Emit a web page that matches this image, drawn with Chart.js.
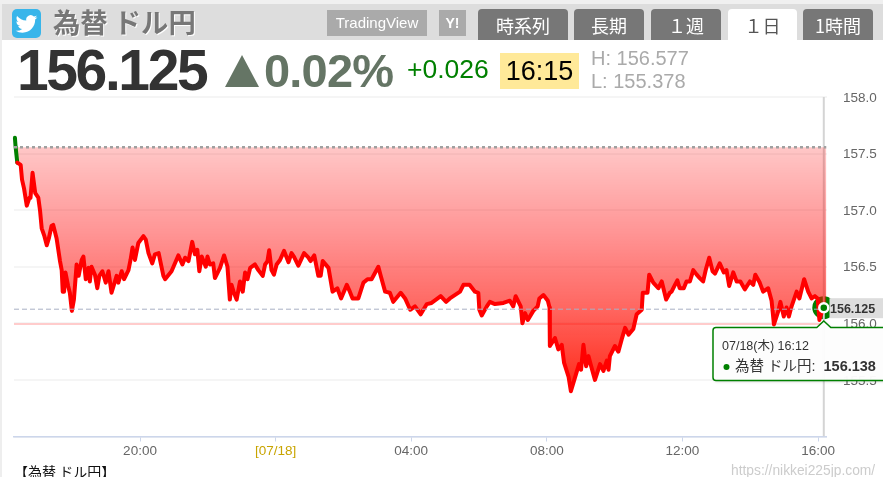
<!DOCTYPE html>
<html lang="ja"><head><meta charset="utf-8">
<script src="https://cdn.jsdelivr.net/npm/chart.js@4"></script>
<style>
html,body{margin:0;padding:0;background:#fff;overflow:hidden}
body{width:883px;height:477px;position:relative;font-family:"Liberation Sans",Arial,"Noto Sans CJK JP",sans-serif}
#wrap{position:absolute;left:0;top:0;width:883px;height:477px}
canvas{display:block}
.a{position:absolute;white-space:nowrap;line-height:1}
.btn{background:#aaa;color:#fff;text-align:center;top:10px;height:26px;line-height:26px;font-size:15px}
.tab{background:#777;color:#fff;text-align:center;top:9px;height:31px;line-height:32px;font-size:18px;border-radius:4px 4px 0 0;font-family:"Noto Sans CJK JP",sans-serif}
</style></head><body>
<div class="a" style="left:0;top:0;width:2px;height:477px;background:#eee"></div>
<div class="a" style="left:0;top:0;width:883px;height:4px;background:#f0f0f0"></div>
<div class="a" style="left:2px;top:4px;width:881px;height:36px;background:#ddd"></div>
<div id="wrap"><canvas id="c" width="883" height="477"></canvas></div>
<div class="a" style="left:12px;top:9px;width:29px;height:29px;border-radius:5px;background:#38b5ea">
<svg width="29" height="29" viewBox="-4 -4.5 32 32"><path fill="#fff" d="M23.953 4.57a10 10 0 01-2.825.775 4.958 4.958 0 002.163-2.723c-.951.555-2.005.959-3.127 1.184a4.92 4.92 0 00-8.384 4.482C7.69 8.095 4.067 6.13 1.64 3.162a4.822 4.822 0 00-.666 2.475c0 1.71.87 3.213 2.188 4.096a4.904 4.904 0 01-2.228-.616v.06a4.923 4.923 0 003.946 4.827 4.996 4.996 0 01-2.212.085 4.936 4.936 0 004.604 3.417 9.867 9.867 0 01-6.102 2.105c-.39 0-.779-.023-1.17-.067a13.995 13.995 0 007.557 2.209c9.053 0 13.998-7.496 13.998-13.985 0-.21 0-.42-.015-.63A9.935 9.935 0 0024 4.59z"/></svg></div>
<div class="a" style="left:53px;top:7px;font:bold 27.3px 'Noto Sans CJK JP',sans-serif;line-height:29px;color:#777;text-shadow:1px 1px 0 #fff">為替 ドル円</div>
<div class="a btn" style="left:327px;width:100px">TradingView</div>
<div class="a btn" style="left:439px;width:27px;font-weight:bold;font-size:14px">Y!</div>
<div class="a tab" style="left:478px;width:90px">時系列</div>
<div class="a tab" style="left:574px;width:70px">長期</div>
<div class="a tab" style="left:651px;width:70px">１週</div>
<div class="a tab" style="left:728px;width:69px;background:#fff;color:#555">１日</div>
<div class="a tab" style="left:803px;width:70px">1時間</div>
<div class="a" style="left:17px;top:42px;font-weight:bold;font-size:57px;letter-spacing:-2.4px;color:#333">156.125</div>
<div class="a" style="left:225px;top:55px;width:0;height:0;border-left:17px solid transparent;border-right:17px solid transparent;border-bottom:32px solid #657565"></div>
<div class="a" style="left:264px;top:47px;font-weight:bold;font-size:47px;color:#657565;letter-spacing:-.8px">0.02%</div>
<div class="a" style="left:407px;top:56px;font-size:26.5px;color:#008000">+0.026</div>
<div class="a" style="left:500px;top:53px;width:79px;height:36px;line-height:37px;background:#ffe999;color:#000;font-size:27px;text-align:center">16:15</div>
<div class="a" style="left:591px;top:48px;font-size:20px;color:#aaa">H: 156.577</div>
<div class="a" style="left:591px;top:71px;font-size:20px;color:#aaa">L: 155.378</div>
<div class="a" style="left:14px;top:461px;font:14px 'Noto Sans CJK JP',sans-serif;color:#111">【為替 ドル円】</div>
<div class="a" style="left:731px;top:464px;font-size:13.8px;color:#ccc">https://nikkei225jp.com/</div>
<script>
// Hours since 16:00 on 07/17
const times = [
0.31,0.33,0.38,0.48,0.52,0.58,0.66,0.74,0.77,0.83,0.91,1.00,1.05,1.10,1.18,1.25,1.31,1.39,1.44,1.54,1.64,1.69,1.72,1.76,1.80,1.88,1.93,1.99,2.05,2.13,2.19,2.28,2.33,2.40,2.48,2.52,2.57,2.67,2.74,2.80,2.89,2.99,3.07,3.16,3.31,3.36,3.46,3.53,3.66,3.72,3.78,3.85,3.95,4.10,4.17,4.25,4.36,4.44,4.55,4.69,4.74,4.93,5.13,5.25,5.33,5.43,5.54,5.62,5.69,5.75,5.82,5.94,5.99,6.06,6.16,6.21,6.36,6.48,6.58,6.65,
6.70,6.77,6.85,6.95,7.03,7.10,7.17,7.25,7.39,7.49,7.62,7.69,7.76,7.81,7.88,7.95,8.03,8.13,8.25,8.38,8.47,8.54,8.67,8.84,8.97,9.03,9.14,9.26,9.33,9.39,9.56,9.68,9.82,9.93,10.10,10.19,10.27,10.44,10.59,10.71,10.83,11.03,11.10,11.23,11.37,11.47,11.69,11.82,11.97,12.11,12.28,12.46,12.60,12.87,13.03,13.14,13.44,
13.54,13.72,13.88,13.98,14.01,14.08,14.23,14.32,14.47,14.72,14.91,15.01,15.08,15.23,15.28,15.36,15.44,15.60,15.73,15.78,15.90,16.03,16.08,16.09,16.24,16.34,16.44,16.51,16.64,16.71,16.83,16.95,17.01,17.08,17.16,17.23,17.29,17.42,17.57,17.67,17.77,17.82,17.86,18.01,18.11,18.21,18.31,18.41,18.55,18.65,18.80,18.83,18.97,19.02,19.14,19.29,19.39,19.52,19.63,
19.68,19.78,19.85,19.92,20.04,20.12,20.22,20.32,20.42,20.51,20.61,20.69,20.79,20.89,20.96,21.10,21.22,21.30,21.38,21.50,21.60,21.71,21.84,21.99,22.09,22.15,22.28,22.38,22.53,22.63,22.70,22.83,22.89,22.99,23.07,23.14,23.22,23.37,23.45,23.59,23.71,23.81,23.91,23.99,24.04,24.10,24.17,24.25];
const usdJpy = [
157.64,157.56,157.42,157.40,157.27,157.19,157.04,157.11,157.11,157.33,157.15,157.11,157.00,156.84,156.77,156.69,156.75,156.86,156.87,156.75,156.55,156.47,156.28,156.28,156.45,156.33,156.27,156.11,156.21,156.52,156.42,156.56,156.59,156.39,156.49,156.37,156.50,156.43,156.31,156.42,156.46,156.36,156.46,156.27,156.42,156.36,156.46,156.39,156.47,156.56,156.67,156.56,156.71,156.77,156.74,156.62,156.53,156.61,156.62,156.42,156.39,156.46,156.60,156.52,156.58,156.55,156.72,156.61,156.65,156.46,156.59,156.50,156.59,156.52,156.53,156.40,156.49,156.60,156.50,156.21,
156.34,156.27,156.21,156.37,156.28,156.45,156.39,156.49,156.52,156.47,156.42,156.52,156.55,156.645,156.47,156.43,156.52,156.56,156.64,156.54,156.62,156.59,156.51,156.62,156.58,156.55,156.60,156.42,156.42,156.55,156.49,156.28,156.31,156.22,156.34,156.28,156.22,156.22,156.36,156.39,156.39,156.50,156.42,156.28,156.27,156.19,156.27,156.22,156.12,156.15,156.08,156.17,156.18,156.24,156.19,156.22,156.28,
156.34,156.34,156.28,156.27,156.12,156.07,156.15,156.19,156.17,156.18,156.20,156.15,156.24,156.15,156.00,156.09,156.03,156.11,156.15,156.22,156.25,156.20,156.14,155.80,155.87,155.77,155.81,155.65,155.53,155.40,155.52,155.64,155.59,155.81,155.62,155.71,155.64,155.50,155.64,155.58,155.67,155.59,155.71,155.80,155.75,155.86,155.96,155.90,155.95,156.08,156.12,156.27,156.27,156.43,156.36,156.31,156.37,156.21,156.27,
156.28,156.34,156.38,156.31,156.31,156.37,156.37,156.47,156.43,156.40,156.37,156.475,156.58,156.46,156.44,156.53,156.45,156.47,156.33,156.45,156.37,156.37,156.30,156.37,156.34,156.43,156.36,156.28,156.31,156.20,155.99,156.11,156.19,156.06,156.14,156.06,156.15,156.28,156.22,156.39,156.28,156.22,156.24,156.22,156.03,156.09,156.138,156.125];
const xTickValues = [4,8,12,16,20,24];
const xTickLabels = ['20:00','[07/18]','04:00','08:00','12:00','16:00'];
const yTickValues = [155,155.5,156,156.5,157,157.5,158];
const yTickLabels = ['','155.5','156.0','156.5','157.0','157.5','158.0'];
const openLevel = 157.556;
const currentLevel = 156.125;
const baseLevel = 155.995;
const hoverTime = 24.17;
const hoverValue = 156.138;
const xMin = 0.283, xMax = 24.25, yMin = 155, yMax = 158;

const points = times.map((t,i)=>({x:t,y:usdJpy[i]}));
const span = v => [{x:xMin,y:v},{x:xMax,y:v}];
const GREEN = '#008000';
const fmtFont = (w,s,f)=>`${w} ${s}px ${f}`;
const sans = '"Liberation Sans","Noto Sans CJK JP",sans-serif';

function areaFill(ctx){
  const a = ctx.chart.chartArea; if(!a) return 'rgba(255,0,0,.4)';
  const s = ctx.chart.scales.y;
  const g = ctx.chart.ctx.createLinearGradient(0,s.getPixelForValue(openLevel),0,s.getPixelForValue(155.38));
  g.addColorStop(0,'rgba(255,0,0,.22)');
  g.addColorStop(.35,'rgba(255,0,0,.42)');
  g.addColorStop(.65,'rgba(255,10,0,.62)');
  g.addColorStop(1,'rgba(255,30,10,.95)');
  return g;
}

const overlay = {
  id:'overlay',
  afterDraw(chart){
    const c = chart.ctx, X = chart.scales.x, Y = chart.scales.y;
    const hx = X.getPixelForValue(hoverTime), py = Y.getPixelForValue(currentLevel);
    c.save();
    // current price label
    c.fillStyle = '#ddd'; c.fillRect(829.5,py-11,54,20);
    c.fillStyle = '#333'; c.font = fmtFont('bold',12.5,sans);
    c.textBaseline = 'middle'; c.textAlign = 'left';
    c.fillText(currentLevel.toFixed(3),830,py);
    // tooltip
    const L = 713, T = 327.5, B = 380.5, R = 900;
    c.beginPath();
    c.moveTo(L+3,T); c.lineTo(hx-7,T); c.lineTo(hx,T-6.5); c.lineTo(hx+7,T); c.lineTo(R,T);
    c.lineTo(R,B); c.lineTo(L+3,B); c.quadraticCurveTo(L,B,L,B-3); c.lineTo(L,T+3); c.quadraticCurveTo(L,T,L+3,T);
    c.closePath();
    c.shadowColor = 'rgba(0,0,0,.22)'; c.shadowBlur = 3; c.shadowOffsetX = 1; c.shadowOffsetY = 1;
    c.fillStyle = 'rgba(255,255,255,.96)'; c.fill();
    c.shadowColor = 'transparent';
    c.strokeStyle = GREEN; c.lineWidth = 1.5; c.stroke();
    c.fillStyle = '#333'; c.font = fmtFont('normal',12.5,sans);
    c.fillText('07/18(木) 16:12',722,347);
    c.fillStyle = GREEN; c.beginPath(); c.arc(726.5,367,3,0,Math.PI*2); c.fill();
    c.fillStyle = '#333'; c.font = fmtFont('normal',14.5,sans);
    c.fillText('為替 ドル円:',735,366.5);
    c.font = fmtFont('bold',14.5,sans);
    c.fillText(hoverValue.toFixed(3),823.5,366.5);
    c.restore();
  }
};

new Chart(document.getElementById('c'),{
  type:'line',
  data:{datasets:[
    {data:[{x:hoverTime,y:hoverValue}],order:1,showLine:false,clip:false,pointRadius:4.5,pointBackgroundColor:GREEN,pointBorderColor:'#fff',pointBorderWidth:2.5},
    {data:span(currentLevel),order:2,borderColor:'#a9b0c4',borderWidth:1,borderDash:[5,3],pointRadius:0},
    {data:span(openLevel),order:2,borderColor:'#a0a0a0',borderWidth:2.5,borderDash:[3,3],pointRadius:0},
    {data:points,order:3,borderColor:'#ff0000',borderWidth:4,pointRadius:0,tension:0,borderJoinStyle:'round',borderCapStyle:'round',clip:false,
      fill:{value:openLevel},backgroundColor:areaFill,
      segment:{borderColor:s=>s.p0.parsed.y>openLevel?GREEN:'#ff0000'}},
    {data:span(baseLevel),order:4,borderColor:'#ffcccc',borderWidth:2,pointRadius:0},
    {data:[{x:hoverTime,y:yMin},{x:hoverTime,y:yMax}],order:5,borderColor:'#d4d4d4',borderWidth:2,pointRadius:0},
    {data:[{x:hoverTime,y:hoverValue}],order:6,showLine:false,clip:false,pointRadius:11.5,pointBackgroundColor:GREEN,pointBorderWidth:0}
  ]},
  options:{
    responsive:false,animation:false,
    layout:{padding:{left:14,top:97,right:0,bottom:0}},
    plugins:{legend:{display:false},tooltip:{enabled:false},filler:{propagate:false}},
    scales:{
      x:{type:'linear',min:xMin,max:xMax,
        afterBuildTicks:s=>{s.ticks=xTickValues.map(v=>({value:v}));},
        afterFit:s=>{s.height=40.5;},
        border:{color:'#ccd6eb',width:1.5},
        grid:{drawOnChartArea:false,drawTicks:true,tickLength:5,tickColor:'#ccd6eb',tickWidth:1},
        ticks:{autoSkip:false,maxRotation:0,padding:2,font:{size:13.5,family:sans},
          color:c=>c.index===1?'#c8a400':'#666',
          callback:(v)=>xTickLabels[xTickValues.indexOf(v)]}
      },
      y:{position:'right',min:yMin,max:yMax,
        afterBuildTicks:s=>{s.ticks=yTickValues.map(v=>({value:v}));},
        afterFit:s=>{s.width=56.5;},
        border:{display:false},
        grid:{drawTicks:false,color:'rgba(0,0,0,.04)',lineWidth:2},
        ticks:{padding:16.5,color:'#666',font:{size:13.5,family:sans},crossAlign:'near',labelOffset:1,
          callback:(v)=>yTickLabels[yTickValues.indexOf(v)]}
      }
    }
  },
  plugins:[overlay]
});
</script>
</body></html>
